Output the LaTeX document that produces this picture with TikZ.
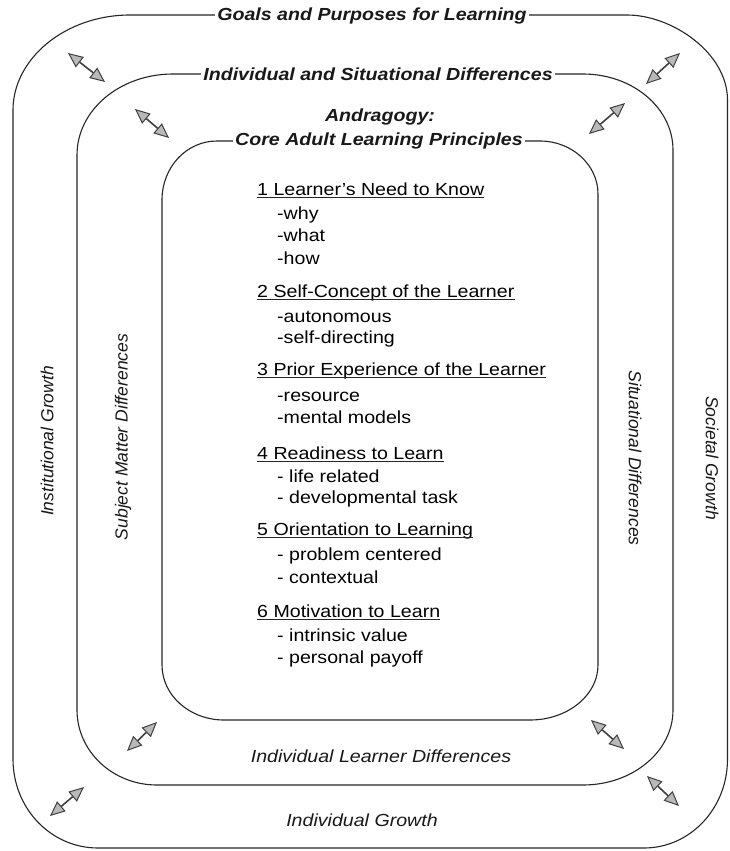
\documentclass[tikz,border=0pt]{standalone}
\usepackage{fontspec}
\setmainfont{Liberation Sans}[FakeStretch=1.12]
\newfontfamily\vertfont{Liberation Sans}
\usetikzlibrary{arrows.meta}
\tikzset{
  boxline/.style={draw=black!85, line width=1.1pt},
  ringlabel/.style={font=\fontsize{17.5}{20}\selectfont\bfseries\itshape, fill=white, inner xsep=2pt, inner ysep=1pt, text=black!90},
  plainlabel/.style={font=\fontsize{17.5}{20}\selectfont\itshape, text=black!90},
  sidelabel/.style={font=\vertfont\fontsize{17.5}{20}\selectfont\itshape, text=black!90},
  headline/.style={font=\fontsize{17.5}{20}\selectfont, anchor=base west, inner sep=0pt, text=black},
  itemline/.style={font=\fontsize{17.5}{20}\selectfont, anchor=base west, inner sep=0pt, text=black},
  underbar/.style={draw=black!85, line width=1pt},
  twoway/.style={draw=black!75, line width=1.6pt,
    {Triangle[length=15pt,width=13pt,fill=gray!55,line width=1pt]}-{Triangle[length=15pt,width=13pt,fill=gray!55,line width=1pt]}},
}
\begin{document}
\begin{tikzpicture}[x=1pt,y=-1pt]
\useasboundingbox (0,0) rectangle (729,851);
\fill[white] (0,0) rectangle (729,851);

% outer ring
\draw[boxline] (13,759) -- (13,110) .. controls (13,58.7) and (65.4,15) .. (130,15)
  -- (627,15) .. controls (672.2,15) and (727.5,53) .. (727.5,100)
  -- (727.5,759) .. controls (727.5,808.7) and (690,848) .. (644,848)
  -- (98,848) .. controls (51.1,848) and (13,808.7) .. (13,759) -- cycle;
% middle ring
\draw[boxline] (77,710) -- (77,155) .. controls (77,110) and (120,74) .. (173,74)
  -- (583,74) .. controls (632.7,74) and (673,108) .. (673,150)
  -- (673,710) .. controls (673,751.4) and (632.7,785) .. (583,785)
  -- (157,785) .. controls (112.8,785) and (77,751.4) .. (77,710) -- cycle;
% inner ring
\draw[boxline] (162,665) -- (162,200) .. controls (162,167) and (186.6,141) .. (217,141)
  -- (540,141) .. controls (572,141) and (598,165) .. (598,194)
  -- (598,665) .. controls (598,695.4) and (567.5,720) .. (530,720)
  -- (224,720) .. controls (189.8,720) and (162,695.4) .. (162,665) -- cycle;

% ring labels
\node[ringlabel] (goals) at (372,16) {Goals and Purposes for Learning};
\node[ringlabel] (isd) at (378,74) {Individual and Situational Differences};
\node[ringlabel, fill=none] (andr) at (380,117) {Andragogy:};
\node[ringlabel] (core) at (379,141) {Core Adult Learning Principles};
\node[plainlabel] (ild) at (381,756) {Individual Learner Differences};
\node[plainlabel] (igr) at (362,820) {Individual Growth};
\node[sidelabel, rotate=90] (instg) at (47,441) {Institutional Growth};
\node[sidelabel, rotate=90] (smd) at (123,437) {Subject Matter Differences};
\node[sidelabel, rotate=-90] (sitd) at (635,458) {Situational Differences};
\node[sidelabel, rotate=-90] (socg) at (712,458) {Societal Growth};

% principles
\node[headline] (h1) at (257,195) {1 Learner's Need to Know};
\node[itemline] (i11) at (277,219) {-why};
\node[itemline] (i12) at (277,241) {-what};
\node[itemline] (i13) at (277,264) {-how};
\node[headline] (h2) at (257,297) {2 Self-Concept of the Learner};
\node[itemline] (i21) at (277,322) {-autonomous};
\node[itemline] (i22) at (277,343) {-self-directing};
\node[headline] (h3) at (257,375) {3 Prior Experience of the Learner};
\node[itemline] (i31) at (277,401) {-resource};
\node[itemline] (i32) at (277,423) {-mental models};
\node[headline] (h4) at (257,459) {4 Readiness to Learn};
\node[itemline] (i41) at (277,482) {- life related};
\node[itemline] (i42) at (277,503) {- developmental task};
\node[headline] (h5) at (257,535) {5 Orientation to Learning};
\node[itemline] (i51) at (277,560) {- problem centered};
\node[itemline] (i52) at (277,583) {- contextual};
\node[headline] (h6) at (257,617) {6 Motivation to Learn};
\node[itemline] (i61) at (277,641) {- intrinsic value};
\node[itemline] (i62) at (277,663) {- personal payoff};
\foreach \h in {h1,h2,h3,h4,h5,h6}
  \draw[underbar] ([yshift=-2.5pt]\h.base west) -- ([yshift=-2.5pt]\h.base east);

% arrow end points
\coordinate (a1s) at (68,53);   \coordinate (a1e) at (105,82);
\coordinate (a2s) at (135,109); \coordinate (a2e) at (169,138);
\coordinate (a3s) at (680,53);  \coordinate (a3e) at (646,84);
\coordinate (a4s) at (625,103); \coordinate (a4e) at (589,134);
\coordinate (a5s) at (157,722); \coordinate (a5e) at (127,751);
\coordinate (a6s) at (84,787);  \coordinate (a6e) at (50,816);
\coordinate (a7s) at (591,720); \coordinate (a7e) at (624,749);
\coordinate (a8s) at (647,776); \coordinate (a8e) at (679,806);
\draw[twoway] (a1s) -- (a1e);
\draw[twoway] (a2s) -- (a2e);
\draw[twoway] (a3s) -- (a3e);
\draw[twoway] (a4s) -- (a4e);
\draw[twoway] (a5s) -- (a5e);
\draw[twoway] (a6s) -- (a6e);
\draw[twoway] (a7s) -- (a7e);
\draw[twoway] (a8s) -- (a8e);
\end{tikzpicture}
\end{document}
